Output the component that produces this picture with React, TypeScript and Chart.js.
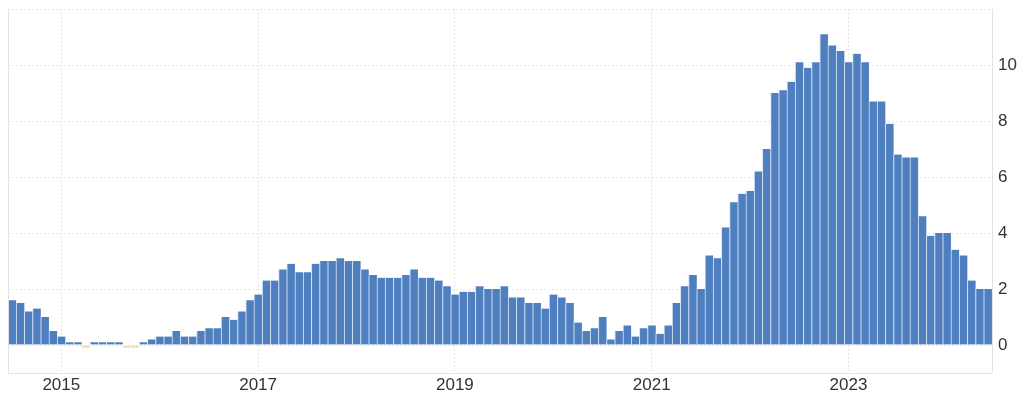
import React, { useEffect, useRef } from "react";
import { Chart, registerables } from "chart.js";

Chart.register(...registerables);

// Monthly labels Jul 2014 .. Jun 2024
const months: string[] = [];
for (let y = 2014; y <= 2024; y++) {
  for (let m = 1; m <= 12; m++) {
    if ((y === 2014 && m < 7) || (y === 2024 && m > 6)) continue;
    months.push(`${y}-${String(m).padStart(2, "0")}`);
  }
}

const values2014 = [1.6, 1.5, 1.2, 1.3, 1.0, 0.5];
const values2015 = [0.3, 0.1, 0.1, -0.1, 0.1, 0.1, 0.1, 0.1, -0.1, -0.1, 0.1, 0.2];
const values2016 = [0.3, 0.3, 0.5, 0.3, 0.3, 0.5, 0.6, 0.6, 1.0, 0.9, 1.2, 1.6];
const values2017 = [1.8, 2.3, 2.3, 2.7, 2.9, 2.6, 2.6, 2.9, 3.0, 3.0, 3.1, 3.0];
const values2018 = [3.0, 2.7, 2.5, 2.4, 2.4, 2.4, 2.5, 2.7, 2.4, 2.4, 2.3, 2.1];
const values2019 = [1.8, 1.9, 1.9, 2.1, 2.0, 2.0, 2.1, 1.7, 1.7, 1.5, 1.5, 1.3];
const values2020 = [1.8, 1.7, 1.5, 0.8, 0.5, 0.6, 1.0, 0.2, 0.5, 0.7, 0.3, 0.6];
const values2021 = [0.7, 0.4, 0.7, 1.5, 2.1, 2.5, 2.0, 3.2, 3.1, 4.2, 5.1, 5.4];
const values2022 = [5.5, 6.2, 7.0, 9.0, 9.1, 9.4, 10.1, 9.9, 10.1, 11.1, 10.7, 10.5];
const values2023 = [10.1, 10.4, 10.1, 8.7, 8.7, 7.9, 6.8, 6.7, 6.7, 4.6, 3.9, 4.0];
const values2024 = [4.0, 3.4, 3.2, 2.3, 2.0, 2.0];

const values = [
  ...values2014, ...values2015, ...values2016, ...values2017, ...values2018, ...values2019,
  ...values2020, ...values2021, ...values2022, ...values2023, ...values2024,
];

const xTickYears = ["2015", "2017", "2019", "2021", "2023"];
const yTicks = [0, 2, 4, 6, 8, 10, 12];
const yLabelled = [0, 2, 4, 6, 8, 10];

const frame = {
  id: "frame",
  afterDraw(chart: any) {
    const { ctx, chartArea: a } = chart;
    ctx.save();
    ctx.strokeStyle = "#e3e3e3";
    ctx.lineWidth = 1;
    ctx.beginPath();
    ctx.moveTo(Math.round(a.left) + 0.5, a.top);
    ctx.lineTo(Math.round(a.left) + 0.5, a.bottom);
    ctx.moveTo(Math.round(a.right) + 0.5, a.top);
    ctx.lineTo(Math.round(a.right) + 0.5, a.bottom);
    ctx.moveTo(a.left, Math.round(a.bottom) + 0.5);
    ctx.lineTo(a.right, Math.round(a.bottom) + 0.5);
    ctx.stroke();
    ctx.restore();
  },
};

export default function App() {
  const ref = useRef<HTMLCanvasElement>(null);
  useEffect(() => {
    document.body.style.margin = "0";
    const chart = new Chart(ref.current!, {
      type: "bar",
      data: {
        labels: months,
        datasets: [
          {
            data: values,
            backgroundColor: values.map((v) => (v < 0 ? "#f3dcad" : "#4f7fbf")),
            borderColor: values.map((v) => (v < 0 ? "#fbf1dc" : "#d3e1f5")),
            borderWidth: { left: 1, right: 0.4, top: 0, bottom: 0 },
            borderSkipped: false,
            barPercentage: 1,
            categoryPercentage: 1,
          },
        ],
      },
      plugins: [frame],
      options: {
        animation: false,
        responsive: false,
        maintainAspectRatio: false,
        layout: { padding: { left: 8, top: 9, right: 0, bottom: 0 } },
        plugins: { legend: { display: false }, tooltip: { enabled: false } },
        scales: {
          x: {
            grid: { offset: false, color: "#e6e6e6", drawTicks: false, lineWidth: 1 },
            border: { display: false, dash: [2, 2] },
            afterBuildTicks: (scale: any) => {
              scale.ticks = scale.ticks.filter((t: any) => {
                const lbl = months[t.value];
                return lbl && lbl.endsWith("-01") && xTickYears.includes(lbl.slice(0, 4));
              });
            },
            afterFit: (scale: any) => {
              scale.height = 32;
              scale.paddingLeft = 0;
              scale.paddingRight = 0;
            },
            ticks: {
              autoSkip: false,
              maxRotation: 0,
              padding: 2,
              color: "#333333",
              font: { family: "'Liberation Sans', Arial, sans-serif", size: 17 },
              callback: function (this: any, val: any) {
                return months[val].slice(0, 4);
              },
            },
          },
          y: {
            position: "right",
            min: -1,
            max: 12,
            grid: { color: "#e6e6e6", drawTicks: false, lineWidth: 1 },
            border: { display: false, dash: [2, 2] },
            afterBuildTicks: (scale: any) => {
              scale.ticks = yTicks.map((v) => ({ value: v }));
            },
            afterFit: (scale: any) => {
              scale.width = 32;
              scale.paddingTop = 0;
              scale.paddingBottom = 0;
            },
            ticks: {
              padding: 6,
              color: "#333333",
              font: { family: "'Liberation Sans', Arial, sans-serif", size: 17 },
              callback: (v: any) => (yLabelled.includes(v) ? String(v) : ""),
            },
          },
        },
      },
    });
    return () => chart.destroy();
  }, []);
  return (
    <div style={{ width: 1024, height: 405 }}>
      <canvas ref={ref} width={1024} height={405} style={{ display: "block" }} />
    </div>
  );
}
